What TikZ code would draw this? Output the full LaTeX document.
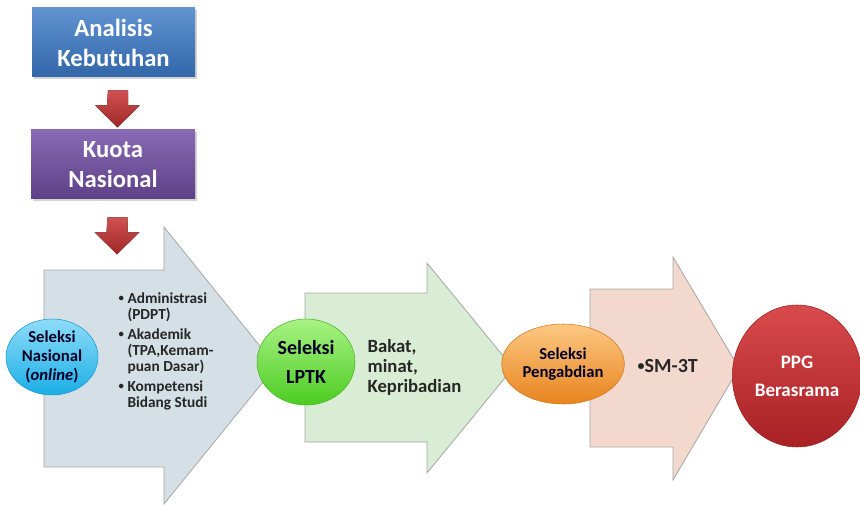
\documentclass[tikz,border=0pt]{standalone}
\usepackage{fontspec}
\setmainfont{Carlito}
\usetikzlibrary{shapes.geometric,shadows,calc}
\definecolor{biru}{HTML}{3A78C6}
\definecolor{ungu}{HTML}{7450A8}
\definecolor{merah}{HTML}{C83232}
\definecolor{abu}{HTML}{D5DFE6}
\definecolor{hijaumuda}{HTML}{D8EDD3}
\definecolor{persik}{HTML}{F2D8CD}
\definecolor{cyanatas}{HTML}{8EDCF8}
\definecolor{cyanbawah}{HTML}{1AAEE6}
\definecolor{cyangaris}{HTML}{1A9AD0}
\definecolor{hijauatas}{HTML}{A8F284}
\definecolor{hijaubawah}{HTML}{4CCC22}
\definecolor{hijaugaris}{HTML}{46B420}
\definecolor{oranyeatas}{HTML}{FCC883}
\definecolor{oranyebawah}{HTML}{E8841E}
\definecolor{oranyegaris}{HTML}{D07818}
\definecolor{merahatas}{HTML}{D94A4C}
\definecolor{merahbawah}{HTML}{A82124}
\definecolor{merahgaris}{HTML}{9A2022}
\newcommand{\titik}{\raisebox{0.12em}{\scalebox{0.7}{\textbullet}}}
\begin{document}
\begin{tikzpicture}[x=0.75pt, y=-0.75pt,
    kotak/.style={rectangle, minimum height=51.75pt, text=white, align=center,
        font=\fontsize{18.5}{22.5}\selectfont\bfseries, drop shadow={opacity=0.35, shadow xshift=1.5pt, shadow yshift=-1.5pt}},
    blok/.style={fill=#1, draw=black!35, line width=0.6pt},
    oval/.style={ellipse, inner sep=0pt, align=center, text=black!85!blue, font=\bfseries},
    isi/.style={align=left, text=black!85, font=\bfseries}]
    \useasboundingbox (0,0) rectangle (860,506);
    % kotak atas
    \node[kotak, minimum width=122.25pt, top color=biru!80!white, bottom color=biru!85!black] (analisis) at (113.5,42.5) {Analisis\\Kebutuhan};
    \node[kotak, minimum width=123pt, top color=ungu!85!white, bottom color=ungu!80!black] (kuota) at (113,164.5) {Kuota\\Nasional};
    % panah merah ke bawah
    \foreach \n/\d in {analisis/13, kuota/18}{
        \fill[top color=merah!85!white, bottom color=merah!80!black] ($(\n.south)+(-5.5,\d)$) -- ++(20,0) -- ++(0,15) -- ++(12,0)
            -- ++(-22.5,22) -- ++(-22.5,-22) -- ++(12,0) -- cycle;
    }
    % panah besar
    \draw[blok=abu] (44,270) -- (164,270) -- (164,227) -- (276,366) -- (164,504) -- (164,467) -- (44,467) -- cycle;
    \draw[blok=hijaumuda] (305,293) -- (427,293) -- (427,263) -- (513,368) -- (427,473) -- (427,442) -- (305,442) -- cycle;
    \draw[blok=persik] (590,289) -- (673,289) -- (673,257) -- (739,368) -- (673,480) -- (673,447) -- (590,447) -- cycle;
    % lingkaran seleksi
    \node[oval, minimum width=69pt, minimum height=57pt, top color=cyanatas, bottom color=cyanbawah,
        draw=cyangaris, font=\fontsize{12.5}{14.5}\selectfont\bfseries] (nasional) at (52,357) {Seleksi\\Nasional\\(\textit{online})};
    \node[oval, minimum width=73.5pt, minimum height=64.5pt, top color=hijauatas, bottom color=hijaubawah,
        draw=hijaugaris, font=\fontsize{15}{22}\selectfont\bfseries] (lptk) at (306,362) {Seleksi\\LPTK};
    \node[oval, minimum width=92pt, minimum height=60pt, top color=oranyeatas, bottom color=oranyebawah,
        draw=oranyegaris, font=\fontsize{12.5}{14}\selectfont\bfseries] (pengabdian) at (563,364) {Seleksi\\Pengabdian};
    \node[oval, minimum width=97pt, minimum height=106.5pt, top color=merahatas, bottom color=merahbawah,
        draw=merahgaris, text=white, font=\fontsize{14.3}{21}\selectfont\bfseries] (ppg) at (797,376) {PPG\\Berasrama};
    % isi panah
    \node[isi, anchor=west, font=\fontsize{11.5}{12}\selectfont\bfseries] (syarat) at (114,351)
        {\titik\ Administrasi\\\phantom{\titik\ }(PDPT)\\[3pt]
         \titik\ Akademik\\\phantom{\titik\ }(TPA,Kemam-\\\phantom{\titik\ }puan Dasar)\\[3pt]
         \titik\ Kompetensi\\\phantom{\titik\ }Bidang Studi};
    \node[isi, anchor=west, font=\fontsize{14}{15}\selectfont\bfseries] (bakat) at (363,367) {Bakat,\\minat,\\Kepribadian};
    \node[isi, anchor=west, font=\fontsize{15}{18}\selectfont\bfseries] (smt) at (633,366) {\titik SM-3T};
\end{tikzpicture}
\end{document}
